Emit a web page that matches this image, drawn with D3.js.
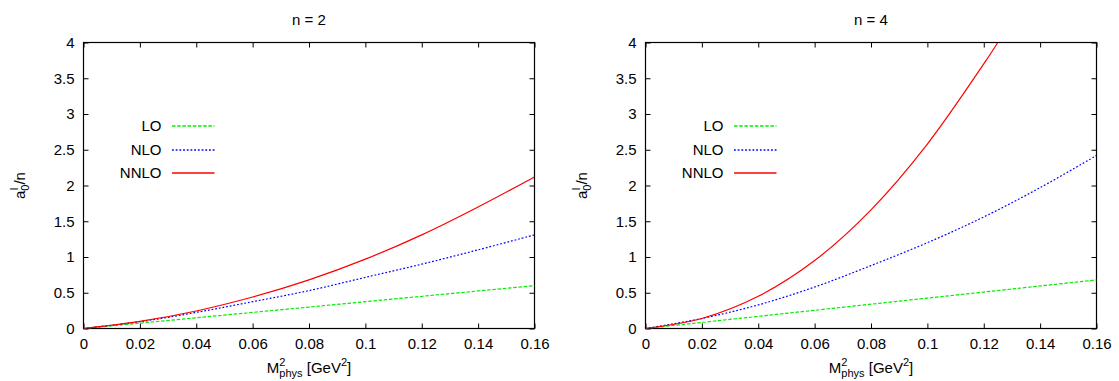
<!DOCTYPE html>
<html>
<head>
<meta charset="utf-8">
<script src="https://cdn.jsdelivr.net/npm/d3@7"></script>
<style>
  body { margin: 0; background: #fff; }
  text { font-family: "Liberation Sans", Arial, Helvetica, sans-serif; fill: #000; }
</style>
</head>
<body>
<svg id="chart" width="1119" height="381"></svg>
<script>
// values
var mSquared = [0, 0.02, 0.04, 0.06, 0.08, 0.10, 0.12, 0.14, 0.16];

var loN2   = [0, 0.075, 0.15, 0.225, 0.30, 0.375, 0.45, 0.525, 0.60];
var nloN2  = [0, 0.095, 0.225, 0.375, 0.53, 0.715, 0.90, 1.10, 1.31];
var nnloN2 = [0, 0.10, 0.245, 0.44, 0.68, 0.97, 1.31, 1.70, 2.12];

var loN4   = [0, 0.085, 0.17, 0.255, 0.34, 0.425, 0.51, 0.595, 0.68];
var nloN4  = [0, 0.14, 0.33, 0.58, 0.88, 1.20, 1.56, 1.97, 2.42];
// NNLO for n = 4 leaves the frame at the top, so it has its own x values
var nnloN4X = [0, 0.02, 0.04, 0.06, 0.08, 0.10, 0.12, 0.125];
var nnloN4  = [0, 0.14, 0.45, 0.95, 1.66, 2.58, 3.70, 4.0];

var seriesNames = ["LO", "NLO", "NNLO"];
var seriesColors = ["#00ee00", "#0000ff", "#ff0000"];
var seriesDash = ["3.5,1.7", "1.8,1.9", null];

var panelTitles = ["n = 2", "n = 4"];

var xTicks = [0, 0.02, 0.04, 0.06, 0.08, 0.10, 0.12, 0.14, 0.16];
var xTickLabels = ["0", "0.02", "0.04", "0.06", "0.08", "0.1", "0.12", "0.14", "0.16"];
var yTicks = [0, 0.5, 1, 1.5, 2, 2.5, 3, 3.5, 4];
var yTickLabels = ["0", "0.5", "1", "1.5", "2", "2.5", "3", "3.5", "4"];

var panels = [
  { title: panelTitles[0], left: 83.5,  series: [
      { x: mSquared, y: loN2 }, { x: mSquared, y: nloN2 }, { x: mSquared, y: nnloN2 } ] },
  { title: panelTitles[1], left: 645.5, series: [
      { x: mSquared, y: loN4 }, { x: mSquared, y: nloN4 }, { x: nnloN4X, y: nnloN4 } ] }
];

var plotW = 451, plotTop = 42.5, plotBottom = 328.5;
var fontSize = 15, tick = 5;

var svg = d3.select("#chart");

panels.forEach(function(p, pi) {
  var x = d3.scaleLinear().domain([0, 0.16]).range([p.left, p.left + plotW]);
  var y = d3.scaleLinear().domain([0, 4]).range([plotBottom, plotTop]);

  var g = svg.append("g");

  // clip for the curves
  var clipId = "clip" + pi;
  svg.append("clipPath").attr("id", clipId)
    .append("rect")
      .attr("x", p.left).attr("y", plotTop)
      .attr("width", plotW).attr("height", plotBottom - plotTop);

  // axes, gnuplot style: ticks inside, mirrored
  var fmtX = function(d, i) { return xTickLabels[i]; };
  var fmtY = function(d, i) { return yTickLabels[i]; };

  var ax = g.append("g").attr("transform", "translate(0," + plotBottom + ")")
    .call(d3.axisBottom(x).tickValues(xTicks).tickFormat(fmtX).tickSize(-tick).tickPadding(10));
  var ax2 = g.append("g").attr("transform", "translate(0," + plotTop + ")")
    .call(d3.axisTop(x).tickValues(xTicks).tickFormat("").tickSize(-tick));
  var ay = g.append("g").attr("transform", "translate(" + p.left + ",0)")
    .call(d3.axisLeft(y).tickValues(yTicks).tickFormat(fmtY).tickSize(-tick).tickPadding(9));
  var ay2 = g.append("g").attr("transform", "translate(" + (p.left + plotW) + ",0)")
    .call(d3.axisRight(y).tickValues(yTicks).tickFormat("").tickSize(-tick));

  [ax, ax2, ay, ay2].forEach(function(a) {
    a.select(".domain").remove();
    a.selectAll("line").attr("stroke", "#000").attr("stroke-width", 1);
    a.selectAll("text").attr("font-size", fontSize)
      .style("font-family", '"Liberation Sans", Arial, sans-serif').attr("fill", "#000");
  });

  g.append("rect")
    .attr("x", p.left).attr("y", plotTop)
    .attr("width", plotW).attr("height", plotBottom - plotTop)
    .attr("fill", "none").attr("stroke", "#000").attr("stroke-width", 1.2);

  // curves
  var line = d3.line()
    .x(function(d) { return x(d[0]); })
    .y(function(d) { return y(d[1]); })
    .curve(d3.curveCatmullRom.alpha(0.5));

  p.series.forEach(function(s, si) {
    var pts = s.x.map(function(v, i) { return [v, s.y[i]]; });
    g.append("path")
      .attr("d", line(pts))
      .attr("clip-path", "url(#" + clipId + ")")
      .attr("fill", "none")
      .attr("stroke", seriesColors[si])
      .attr("stroke-width", 1.2)
      .attr("stroke-dasharray", seriesDash[si]);
  });

  // legend
  var legY = [126, 150, 173];
  seriesNames.forEach(function(name, si) {
    g.append("text")
      .attr("x", p.left + 78).attr("y", legY[si])
      .attr("dy", "0.35em")
      .attr("text-anchor", "end")
      .attr("font-size", fontSize)
      .text(name);
    g.append("line")
      .attr("x1", p.left + 88.5).attr("x2", p.left + 131)
      .attr("y1", legY[si]).attr("y2", legY[si])
      .attr("stroke", seriesColors[si])
      .attr("stroke-width", 1.4)
      .attr("stroke-dasharray", seriesDash[si]);
  });

  // title
  g.append("text")
    .attr("x", p.left + plotW / 2).attr("y", 25)
    .attr("text-anchor", "middle")
    .attr("font-size", fontSize)
    .text(p.title);

  // x label: M^2_phys [GeV^2]
  var xl = g.append("text")
    .attr("x", p.left + plotW / 2).attr("y", 373)
    .attr("text-anchor", "middle")
    .attr("font-size", fontSize);
  xl.append("tspan").text("M");
  xl.append("tspan").attr("font-size", 11).attr("dy", -7).text("2");
  xl.append("tspan").attr("font-size", 11).attr("dx", -6.1).attr("dy", 11).text("phys");
  xl.append("tspan").attr("dy", -4).text(" [GeV");
  xl.append("tspan").attr("font-size", 11).attr("dy", -7).text("2");
  xl.append("tspan").attr("dy", 7).text("]");

  // y label: a^I_0 / n
  var yl = g.append("text")
    .attr("transform", "translate(" + (p.left - 59) + "," + ((plotTop + plotBottom) / 2) + ") rotate(-90)")
    .attr("text-anchor", "middle")
    .attr("font-size", fontSize);
  yl.append("tspan").text("a");
  yl.append("tspan").attr("font-size", 11).attr("dy", 4).text("0");
  yl.append("tspan").attr("font-size", 11).attr("dx", -6.1).attr("dy", -11).text("I");
  yl.append("tspan").attr("dx", 3).attr("dy", 7).text("/n");
});
</script>
</body>
</html>
